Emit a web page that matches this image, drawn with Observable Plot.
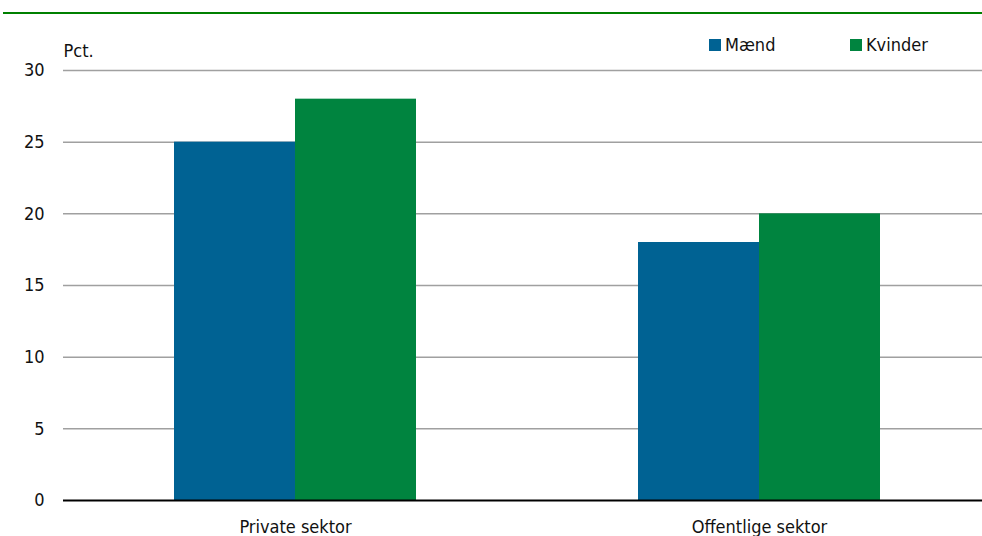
<!DOCTYPE html>
<html><head><meta charset="utf-8">
<script src="https://cdn.jsdelivr.net/npm/d3@7"></script>
<script src="https://cdn.jsdelivr.net/npm/@observablehq/plot@0.6"></script>
<style>
body{margin:0;background:#fff;font-family:"DejaVu Sans Condensed","Liberation Sans Narrow",sans-serif;}
#wrap{position:relative;width:982px;height:536px;overflow:hidden;}
#topline{position:absolute;left:3px;right:0;top:12px;height:2px;background:#008000;}
.leg{position:absolute;top:34px;font-size:18px;line-height:22px;color:#111;display:flex;align-items:center;}
.sw{width:12px;height:12px;margin-right:4px;display:inline-block;}
#chart{position:absolute;left:0;top:0;}
</style></head>
<body><div id="wrap"><div id="topline"></div><div id="chart"></div>
<div class="leg" style="left:709px"><span class="sw" style="background:#006293"></span>Mænd</div>
<div class="leg" style="left:850px"><span class="sw" style="background:#00843f"></span>Kvinder</div>
</div>
<script>
const sectors = ["Private sektor", "Offentlige sektor"];
const genders = ["Mænd", "Kvinder"];
const maend = [25, 18];
const kvinder = [28, 20];
const colors = ["#006293", "#00843f"];
const yTicks = [0, 5, 10, 15, 20, 25, 30];

const data = [];
sectors.forEach((s, i) => {
  data.push({sector: s, gender: genders[0], value: maend[i]});
  data.push({sector: s, gender: genders[1], value: kvinder[i]});
});

const chart = Plot.plot({
  width: 982, height: 536,
  marginTop: 70, marginBottom: 36, marginLeft: 63, marginRight: -9,
  style: {fontFamily: '"DejaVu Sans Condensed","Liberation Sans Narrow",sans-serif', fontSize: "18px", color: "#111", background: "transparent"},
  fx: {domain: sectors, padding: 0, label: null, axis: "bottom", tickSize: 0, tickPadding: 20},
  x: {domain: genders, paddingInner: 0, paddingOuter: 0.91, axis: null},
  y: {domain: [0, 30], ticks: yTicks, label: null, axis: null},
  color: {domain: genders, range: colors},
  marks: [
    Plot.ruleY(yTicks.filter(d => d > 0), {stroke: "#a0a0a0", strokeWidth: 1.5}),
    Plot.barY(data, {fx: "sector", x: "gender", y: "value", fill: "gender"}),
    Plot.ruleY([0], {stroke: "#000", strokeWidth: 2}),
    Plot.axisY(yTicks, {tickSize: 0, tickPadding: 19, label: null, facetAnchor: "left", fontSize: 18}),
    Plot.text(["Pct."], {frameAnchor: "top-left", dy: -26, dx: 0, textAnchor: "start", fontSize: 18, facetAnchor: "left"})
  ]
});
document.getElementById("chart").appendChild(chart);
</script></body></html>
